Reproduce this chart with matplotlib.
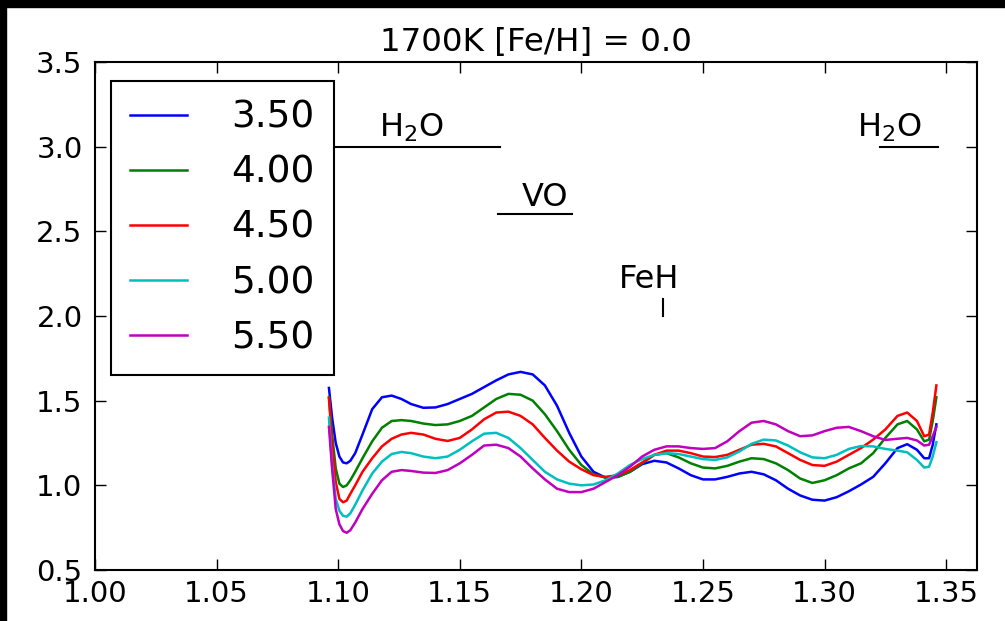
import matplotlib
matplotlib.use("Agg")
import matplotlib.pyplot as plt
from matplotlib.patches import Rectangle

# ---------------- data ----------------
wavelength = [1.0962, 1.0975, 1.099, 1.1005, 1.102, 1.1035, 1.105, 1.107, 1.110,
              1.114, 1.118, 1.122,
              1.126, 1.130, 1.135, 1.140, 1.145, 1.150, 1.155, 1.160, 1.165, 1.170,
              1.175, 1.180, 1.185, 1.190, 1.195, 1.200, 1.205, 1.210, 1.215, 1.220,
              1.225, 1.230, 1.235, 1.240, 1.245, 1.250, 1.255, 1.260, 1.265, 1.270,
              1.275, 1.280, 1.285, 1.290, 1.295, 1.300, 1.305, 1.310, 1.315, 1.320,
              1.325, 1.330, 1.334, 1.338, 1.341, 1.343, 1.3445, 1.346]

flux_350 = [1.575, 1.40, 1.25, 1.17, 1.135, 1.13, 1.145, 1.19, 1.30,
            1.45, 1.52, 1.53,
            1.51, 1.48, 1.458, 1.46, 1.48, 1.51, 1.54, 1.58, 1.62, 1.655,
            1.67, 1.655, 1.59, 1.47, 1.31, 1.17, 1.08, 1.045, 1.05, 1.08,
            1.125, 1.145, 1.135, 1.10, 1.06, 1.035, 1.035, 1.05, 1.07, 1.08,
            1.065, 1.03, 0.98, 0.94, 0.915, 0.91, 0.93, 0.965, 1.005, 1.05,
            1.13, 1.22, 1.243, 1.21, 1.16, 1.16, 1.24, 1.36]

flux_400 = [1.52, 1.30, 1.10, 1.01, 0.99, 1.00, 1.03, 1.08, 1.16,
            1.26, 1.34, 1.38,
            1.385, 1.38, 1.365, 1.356, 1.36, 1.38, 1.41, 1.46, 1.51, 1.54,
            1.535, 1.50, 1.42, 1.32, 1.21, 1.12, 1.065, 1.045, 1.05, 1.08,
            1.13, 1.18, 1.19, 1.165, 1.13, 1.105, 1.10, 1.115, 1.14, 1.16,
            1.155, 1.13, 1.09, 1.04, 1.014, 1.03, 1.06, 1.10, 1.13, 1.19,
            1.28, 1.36, 1.38, 1.33, 1.26, 1.27, 1.38, 1.52]

flux_450 = [1.516, 1.25, 1.02, 0.92, 0.90, 0.91, 0.95, 1.00, 1.08,
            1.16, 1.23, 1.275,
            1.30, 1.31, 1.30, 1.275, 1.262, 1.28, 1.33, 1.39, 1.43, 1.435,
            1.41, 1.36, 1.28, 1.205, 1.14, 1.095, 1.06, 1.05, 1.06, 1.09,
            1.135, 1.18, 1.205, 1.205, 1.19, 1.17, 1.167, 1.18, 1.21, 1.24,
            1.245, 1.23, 1.19, 1.15, 1.12, 1.115, 1.14, 1.18, 1.22, 1.27,
            1.33, 1.41, 1.43, 1.38, 1.29, 1.30, 1.43, 1.59]

flux_500 = [1.40, 1.12, 0.92, 0.85, 0.82, 0.815, 0.835, 0.885, 0.97,
            1.07, 1.14, 1.185,
            1.197, 1.19, 1.17, 1.16, 1.17, 1.21, 1.26, 1.305, 1.31, 1.28,
            1.22, 1.15, 1.08, 1.035, 1.01, 1.0, 1.005, 1.03, 1.07, 1.12,
            1.155, 1.18, 1.19, 1.185, 1.17, 1.155, 1.15, 1.165, 1.20, 1.245,
            1.27, 1.265, 1.235, 1.195, 1.165, 1.16, 1.18, 1.215, 1.232, 1.23,
            1.215, 1.205, 1.195, 1.15, 1.105, 1.11, 1.17, 1.255]

flux_550 = [1.345, 1.10, 0.86, 0.77, 0.73, 0.72, 0.735, 0.78, 0.86,
            0.95, 1.03, 1.08,
            1.09, 1.085, 1.075, 1.073, 1.09, 1.13, 1.18, 1.235, 1.24, 1.22,
            1.17, 1.10, 1.035, 0.98, 0.96, 0.96, 0.98, 1.02, 1.06, 1.11,
            1.17, 1.21, 1.23, 1.23, 1.22, 1.215, 1.22, 1.26, 1.32, 1.37,
            1.38, 1.36, 1.32, 1.29, 1.295, 1.32, 1.34, 1.345, 1.32, 1.29,
            1.268, 1.275, 1.28, 1.265, 1.235, 1.24, 1.29, 1.345]

series_values = [flux_350, flux_400, flux_450, flux_500, flux_550]
series_labels = ["3.50", "4.00", "4.50", "5.00", "5.50"]
series_colors = ["b", "g", "r", "c", "m"]

title_text = "1700K [Fe/H] = 0.0"
x_ticks = [1.00, 1.05, 1.10, 1.15, 1.20, 1.25, 1.30, 1.35]
y_ticks = [0.5, 1.0, 1.5, 2.0, 2.5, 3.0, 3.5]

# band annotations: (label, x_start, x_end, y_line, x_text, y_text)
bands = [
    (r"H$_2$O", 1.09, 1.1665, 3.0, 1.130, 3.058),
    ("VO", 1.1657, 1.196, 2.6, 1.185, 2.650),
    (r"H$_2$O", 1.3228, 1.3466, 3.0, 1.3269, 3.058),
]
feh_x, feh_y0, feh_y1 = 1.2336, 2.0, 2.1
feh_text_x, feh_text_y = 1.228, 2.166

# ---------------- figure ----------------
fig = plt.figure(figsize=(10.05, 6.21), dpi=100)
ax = fig.add_axes([95 / 1005, 1 - 570 / 621, (977 - 95) / 1005, (570 - 62) / 621])

for vals, lab, col in zip(series_values, series_labels, series_colors):
    ax.plot(wavelength, vals, color=col, lw=1.8, label=lab,
            solid_joinstyle="round")

for lab, xs, xe, yl, xt, yt in bands:
    ax.plot([xs, xe], [yl, yl], color="k", lw=1.5, zorder=3)
    ax.text(xt, yt, lab, ha="center", va="baseline", fontsize=23)
ax.plot([feh_x, feh_x], [feh_y0, feh_y1], color="k", lw=1.5)
ax.text(feh_text_x, feh_text_y, "FeH", ha="center", va="baseline", fontsize=23)

ax.set_xlim(1.0, 1.3627)
ax.set_ylim(0.5, 3.5)
ax.set_xticks(x_ticks)
ax.set_xticklabels([f"{t:.2f}" for t in x_ticks])
ax.set_yticks(y_ticks)
ax.set_yticklabels([f"{t:.1f}" for t in y_ticks])
ax.tick_params(direction="in", top=True, right=True, length=8, width=1,
               labelsize=21)
ax.tick_params(axis="x", pad=7)
ax.tick_params(axis="y", pad=9)
for s in ax.spines.values():
    s.set_linewidth(1.5)

ax.set_title(title_text, fontsize=23.4, pad=8)

leg = ax.legend(loc="upper left", bbox_to_anchor=(16 / 882, 1 - 19 / 508),
                borderaxespad=0, fontsize=27, handlelength=1.52,
                handletextpad=1.19, borderpad=0.5, labelspacing=0.51,
                fancybox=False, framealpha=1, edgecolor="k")
leg.get_frame().set_linewidth(1.5)
for ln in leg.get_lines():
    ln.set_linewidth(1.8)

# dark band at top and left edges of the reference image
fig.patches.append(Rectangle((0, 1 - 7 / 621), 1, 7 / 621, transform=fig.transFigure,
                             color="k", zorder=0))
fig.patches.append(Rectangle((0, 0), 6 / 1005, 1, transform=fig.transFigure,
                             color="k", zorder=0))

fig.savefig("out.png", dpi=100)
